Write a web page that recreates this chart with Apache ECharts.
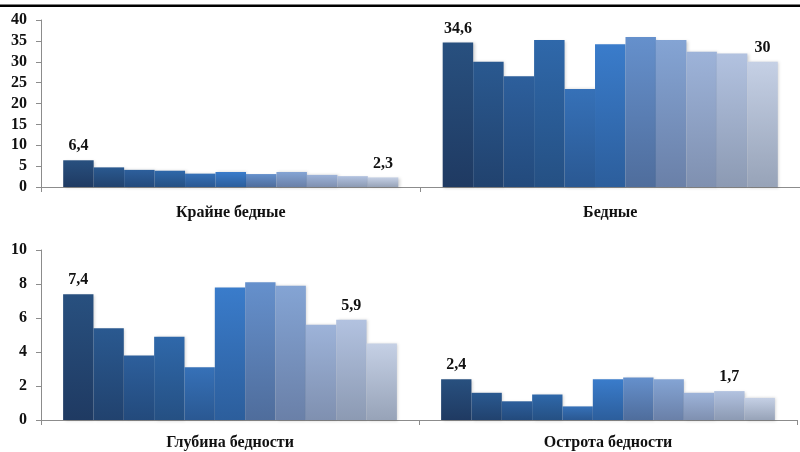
<!DOCTYPE html>
<html>
<head>
<meta charset="utf-8">
<script src="https://cdn.jsdelivr.net/npm/echarts@6/dist/echarts.min.js"></script>
<style>
html,body{margin:0;padding:0;background:#fff;}
#chart{width:800px;height:452px;}
</style>
</head>
<body>
<div id="chart"></div>
<script>
// Categories of each panel
const topCategories = ['Крайне бедные', 'Бедные'];
const bottomCategories = ['Глубина бедности', 'Острота бедности'];

// Eleven observations per category (left to right)
const extremePoor = [6.4, 4.7, 4.1, 3.9, 3.2, 3.6, 3.1, 3.6, 2.9, 2.6, 2.3];
const poor = [34.6, 30.0, 26.5, 35.2, 23.5, 34.2, 35.9, 35.2, 32.4, 32.0, 30];
const povertyDepth = [7.4, 5.4, 3.8, 4.9, 3.1, 7.8, 8.1, 7.9, 5.6, 5.9, 4.5];
const povertySeverity = [2.4, 1.6, 1.1, 1.5, 0.8, 2.4, 2.5, 2.4, 1.6, 1.7, 1.3];

// Which bars carry a value label (index within the eleven)
const extremePoorLabelled = [0, 10];
const poorLabelled = [0, 10];
const depthLabelled = [0, 9];
const severityLabelled = [0, 9];

// Tick labels of the value axes
const topTicks = [0, 5, 10, 15, 20, 25, 30, 35, 40];
const bottomTicks = [0, 2, 4, 6, 8, 10];

// Bar shading: top colour / bottom colour
const barTop = ['#28507f', '#2a5990', '#2d5f9c', '#2f68aa', '#3671b8', '#3a7ccb',
                '#6590cc', '#84a4d4', '#9db3d9', '#b2c2e0', '#c5d0e5'];
const barBottom = ['#1f3a62', '#21426e', '#234a7c', '#255083', '#2a5892', '#2c5e9c',
                   '#4f6d9c', '#6a80a8', '#7f90b0', '#8c9ab3', '#97a3b8'];

const serif = '"Liberation Serif", "DejaVu Serif", serif';
const axisGray = '#8c8c8c';

function fmt(v) { return String(v).replace('.', ','); }

function item(v, show) {
  return {
    value: v,
    label: {
      show: show,
      position: 'top',
      distance: 6,
      formatter: p => fmt(p.value),
      fontFamily: serif, fontWeight: 'bold', fontSize: 16, color: '#111'
    }
  };
}

const series = [];
function addPanel(axisIndex, leftVals, leftLab, rightVals, rightLab) {
  for (let i = 0; i < 11; i++) {
    series.push({
      type: 'bar',
      name: 'Ряд ' + (i + 1),
      xAxisIndex: axisIndex,
      yAxisIndex: axisIndex,
      barGap: '0%',
      barCategoryGap: '11.7%',
      animation: false,
      itemStyle: {
        color: new echarts.graphic.LinearGradient(0, 0, 0, 1, [
          { offset: 0, color: barTop[i] },
          { offset: 1, color: barBottom[i] }
        ]),
        shadowColor: 'rgba(0,0,0,0.18)',
        shadowBlur: 3,
        shadowOffsetX: 1.5,
        shadowOffsetY: 0.5
      },
      data: [item(leftVals[i], leftLab.includes(i)), item(rightVals[i], rightLab.includes(i))]
    });
  }
}
addPanel(0, extremePoor, extremePoorLabelled, poor, poorLabelled);
addPanel(1, povertyDepth, depthLabelled, povertySeverity, severityLabelled);

function xAxis(idx, cats, margin) {
  return {
    type: 'category', gridIndex: idx, data: cats,
    axisLine: { lineStyle: { color: axisGray, width: 1 } },
    axisTick: { show: true, length: 5, lineStyle: { color: axisGray } },
    axisLabel: { margin: margin, fontFamily: serif, fontWeight: 'bold', fontSize: 16, color: '#111' }
  };
}
function yAxis(idx, ticks) {
  return {
    type: 'value', gridIndex: idx,
    min: ticks[0], max: ticks[ticks.length - 1], interval: ticks[1] - ticks[0],
    splitLine: { show: false },
    axisLine: { show: true, lineStyle: { color: axisGray, width: 1 } },
    axisTick: { show: true, length: 5, lineStyle: { color: axisGray } },
    axisLabel: { margin: 14, fontFamily: serif, fontWeight: 'bold', fontSize: 16, color: '#111' }
  };
}

const chart = echarts.init(document.getElementById('chart'), null, { renderer: 'canvas' });
chart.setOption({
  backgroundColor: '#fff',
  animation: false,
  grid: [
    { left: 41, right: -1, top: 20, height: 167 },
    { left: 41, right: 3, top: 250, height: 170 }
  ],
  xAxis: [xAxis(0, topCategories, 18), xAxis(1, bottomCategories, 15)],
  yAxis: [yAxis(0, topTicks), yAxis(1, bottomTicks)],
  series: series,
  graphic: [
    { type: 'rect', left: 0, top: 4.5, shape: { width: 800, height: 2.5 }, style: { fill: '#000' } }
  ]
});
</script>
</body>
</html>
